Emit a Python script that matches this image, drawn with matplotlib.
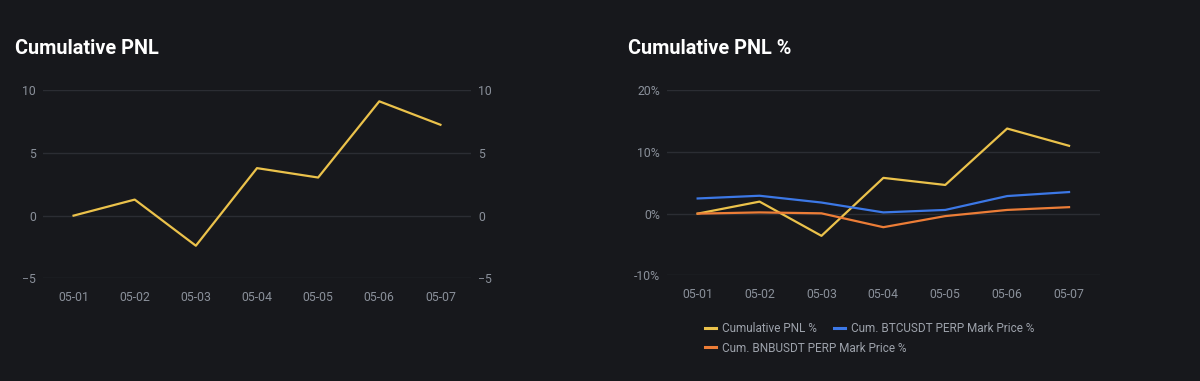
import matplotlib
matplotlib.use("Agg")
import matplotlib.pyplot as plt
from matplotlib.ticker import FuncFormatter

dates = ["05-01", "05-02", "05-03", "05-04", "05-05", "05-06", "05-07"]
cum_pnl = [0.0, 1.28, -2.4, 3.79, 3.04, 9.12, 7.25]
cum_pnl_pct = [0.0, 1.95, -3.6, 5.8, 4.65, 13.8, 11.0]
btc_pct = [2.46, 2.9, 1.8, 0.2, 0.6, 2.85, 3.5]
bnb_pct = [0.0, 0.2, 0.05, -2.2, -0.4, 0.6, 1.05]

BG = "#17181c"
GRID = "#2b2d33"
TICK = "#8a909a"
LEGTXT = "#9da2ab"
YEL = "#ebc24b"
BLUE = "#3c78e6"
ORANGE = "#ec7d37"

plt.rcParams['font.family'] = ['Roboto', 'DejaVu Sans']

fig = plt.figure(figsize=(12, 3.81), dpi=100, facecolor=BG)

def style(ax):
    ax.set_facecolor(BG)
    for s in ax.spines.values():
        s.set_visible(False)
    ax.grid(axis='y', color=GRID, linewidth=1)
    ax.set_axisbelow(True)
    ax.tick_params(axis='both', length=0, colors=TICK, labelsize=8.8)
    ax.tick_params(axis='x', pad=9)
    ax.tick_params(axis='y', pad=5)

x = list(range(len(dates)))

# Left chart
ax1 = fig.add_axes([43/1200, 1-278.3/381, 428/1200, 188/381])
style(ax1)
ax1.plot(x, cum_pnl, color=YEL, linewidth=1.6)
ax1.set_xlim(-0.5, 6.5)
ax1.set_ylim(-5, 10)
ax1.set_yticks([-5, 0, 5, 10])
ax1.set_xticks(x)
ax1.set_xticklabels(dates)
ax1.tick_params(axis='y', labelright=True, right=False)
fig.text(15/1200, 1-48/381, "Cumulative PNL", color="white", fontsize=14.3,
         fontweight='bold', va='center', ha='left')

# Right chart
ax2 = fig.add_axes([666.7/1200, 1-275.3/381, 433.3/1200, 185/381])
style(ax2)
l1, = ax2.plot(x, cum_pnl_pct, color=YEL, linewidth=1.6, label="Cumulative PNL %")
l2, = ax2.plot(x, btc_pct, color=BLUE, linewidth=1.6, label="Cum. BTCUSDT PERP Mark Price %")
l3, = ax2.plot(x, bnb_pct, color=ORANGE, linewidth=1.6, label="Cum. BNBUSDT PERP Mark Price %")
ax2.set_xlim(-0.5, 6.5)
ax2.set_ylim(-10, 20)
ax2.set_yticks([-10, 0, 10, 20])
ax2.yaxis.set_major_formatter(FuncFormatter(lambda v, p: f"{int(v)}%"))
ax2.set_xticks(x)
ax2.set_xticklabels(dates)
fig.text(628/1200, 1-48/381, "Cumulative PNL %", color="white", fontsize=14.3,
         fontweight='bold', va='center', ha='left')

leg_kw = dict(loc='center left', frameon=False, fontsize=8.5, handlelength=0.9,
              handletextpad=0.5, columnspacing=1.5, borderaxespad=0, borderpad=0)
leg1 = fig.legend([l1, l2], [l1.get_label(), l2.get_label()], ncol=2,
                  bbox_to_anchor=(705/1200, 1-329/381), **leg_kw)
leg2 = fig.legend([l3], [l3.get_label()], ncol=1,
                  bbox_to_anchor=(705/1200, 1-348/381), **leg_kw)
for leg in (leg1, leg2):
    for t in leg.get_texts():
        t.set_color(LEGTXT)
    for h in leg.get_lines():
        h.set_linewidth(2.2)

fig.savefig("out.png", dpi=100, facecolor=BG)
